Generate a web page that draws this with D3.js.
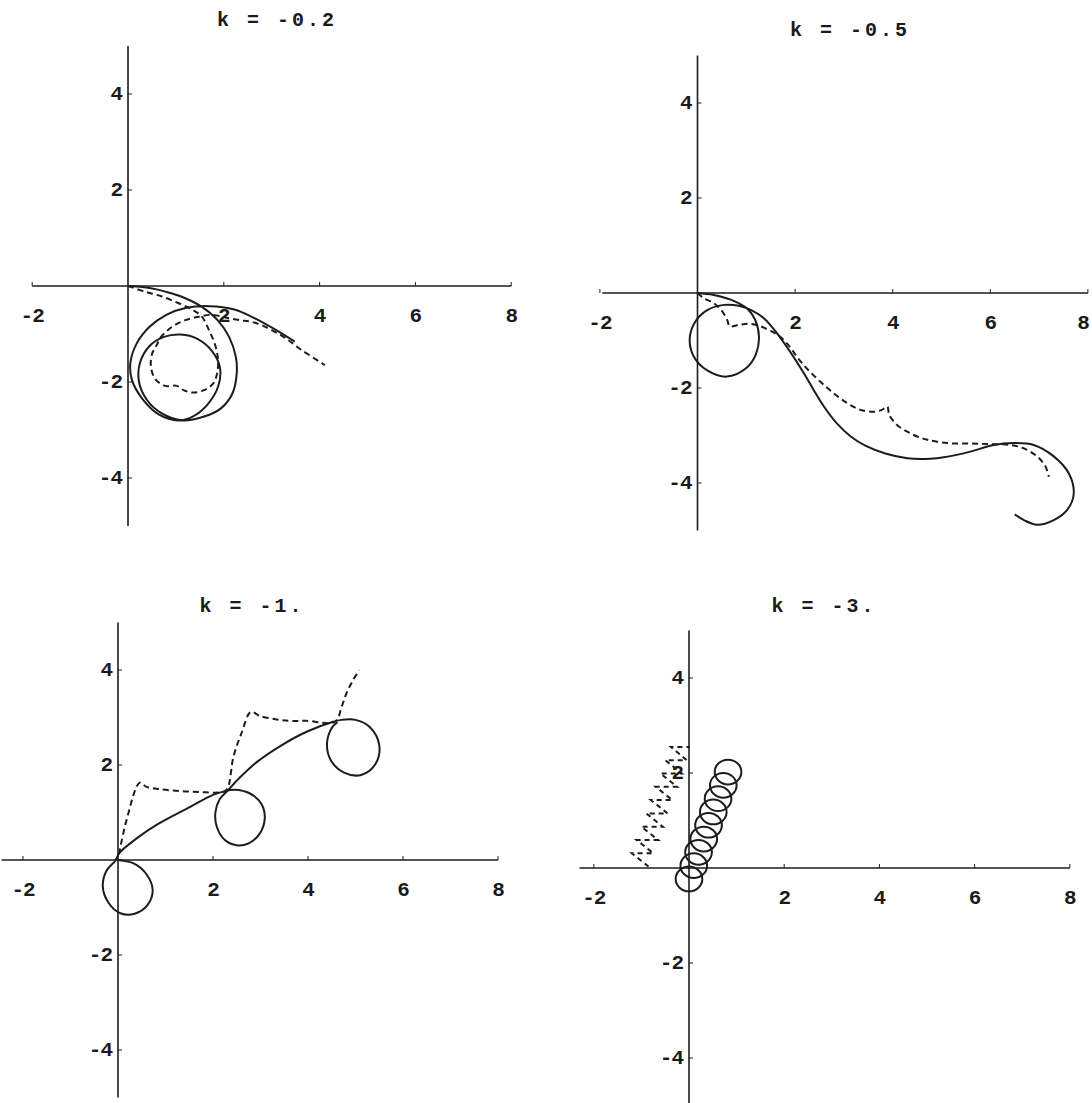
<!DOCTYPE html>
<html>
<head>
<meta charset="utf-8">
<script src="https://cdn.jsdelivr.net/npm/d3@7/dist/d3.min.js"></script>
<style>
  body { margin: 0; background: #fff; }
  text { font-family: "Liberation Mono", "DejaVu Sans Mono", monospace; fill: #1a1a1a; }
</style>
</head>
<body>
<svg id="chart" width="1092" height="1103"></svg>
<script>
// Damping parameter shown above each panel
const kLabels = ["k = -0.2", "k = -0.5", "k = -1.", "k = -3."];
const xTickValues = [-2, 2, 4, 6, 8];
const yTickValues = [4, 2, -2, -4];

// k = -0.2 : trajectory (solid) and companion curve (dashed), [x, y]
const solid1 = [
  [0,0],[0.3,-0.02],[0.6,-0.07],[0.9,-0.15],[1.16,-0.24],[1.52,-0.42],[1.87,-0.71],[2.11,-1.06],
  [2.25,-1.47],[2.27,-1.82],[2.18,-2.24],[1.94,-2.55],[1.59,-2.72],[1.13,-2.8],
  [0.7,-2.65],[0.4,-2.38],[0.23,-2.0],[0.25,-1.6],[0.45,-1.25],[0.75,-1.06],[1.1,-1.01],
  [1.45,-1.1],[1.75,-1.35],[1.92,-1.7],[1.88,-2.1],[1.65,-2.48],[1.35,-2.72],[1.05,-2.8],
  [0.65,-2.68],[0.3,-2.35],[0.08,-1.95],[0.05,-1.6],[0.18,-1.2],[0.45,-0.85],[0.8,-0.6],
  [1.2,-0.46],[1.7,-0.42],[2.22,-0.49],[2.64,-0.67],[3.06,-0.9],[3.48,-1.16]
];
const dashed1 = [
  [0,0],[0.36,-0.12],[0.71,-0.22],[1.06,-0.36],[1.34,-0.49],[1.55,-0.65],[1.69,-0.92],[1.82,-1.23],
  [1.88,-1.54],[1.86,-1.82],[1.78,-2.03],[1.59,-2.17],[1.34,-2.22],[1.16,-2.17],[1.02,-2.08],
  [0.78,-2.08],[0.57,-1.94],[0.48,-1.69],[0.5,-1.42],[0.6,-1.23],[0.69,-1.06],[0.92,-0.85],
  [1.2,-0.71],[1.48,-0.64],[1.76,-0.6],[2.01,-0.65],[2.32,-0.71],[2.67,-0.77],[3.2,-1.03],
  [3.62,-1.33],[4.11,-1.65]
];

// k = -0.5
const solid2 = [
  [0,0],[0.33,-0.04],[0.68,-0.14],[1.02,-0.33],
  [1.18,-0.56],[1.26,-0.92],[1.2,-1.28],[1.0,-1.58],[0.6,-1.76],[0.2,-1.63],[-0.08,-1.33],
  [-0.16,-0.97],[-0.05,-0.61],[0.2,-0.36],[0.55,-0.25],[0.85,-0.27],[1.1,-0.36],
  [1.36,-0.53],[1.63,-0.85],[1.9,-1.24],[2.18,-1.69],[2.38,-2.04],[2.59,-2.39],[2.86,-2.75],
  [3.14,-3.02],[3.45,-3.22],[3.85,-3.38],[4.3,-3.48],[4.77,-3.49],[5.05,-3.46],[5.59,-3.34],
  [6.07,-3.2],[6.48,-3.16],[6.89,-3.2],[7.3,-3.44],[7.61,-3.8],[7.71,-4.22],[7.58,-4.56],
  [7.3,-4.78],[6.96,-4.88],[6.69,-4.78],[6.5,-4.66]
];
const dashed2 = [
  [0,0],[0.13,-0.11],[0.33,-0.21],[0.51,-0.39],[0.61,-0.57],[0.66,-0.7],[0.85,-0.67],
  [1.05,-0.65],[1.26,-0.69],[1.46,-0.78],[1.67,-0.9],[1.88,-1.12],[2.05,-1.36],[2.25,-1.6],
  [2.52,-1.87],[2.79,-2.11],[3.07,-2.32],[3.34,-2.46],[3.61,-2.5],[3.78,-2.46],[3.89,-2.39],
  [3.93,-2.57],[4.09,-2.78],[4.3,-2.92],[4.5,-3.02],[4.71,-3.09],[5.12,-3.16],[5.59,-3.17],
  [5.94,-3.18],[6.41,-3.2],[6.69,-3.27],[6.96,-3.44],[7.13,-3.65],[7.2,-3.87]
];

// k = -1.
const solid3 = [
  [0,0],[0.35,-0.08],[0.6,-0.3],[0.73,-0.63],[0.62,-0.95],[0.35,-1.13],[0.05,-1.12],[-0.2,-0.9],
  [-0.32,-0.56],[-0.24,-0.22],[-0.06,-0.02],[0.03,0.15],
  [0.4,0.46],[0.81,0.74],[1.52,1.12],[2.0,1.37],[2.22,1.44],
  [2.45,1.48],[2.78,1.4],[3.02,1.18],[3.09,0.88],[2.98,0.55],[2.75,0.35],[2.5,0.31],[2.25,0.42],
  [2.08,0.7],[2.05,1.0],[2.14,1.28],[2.3,1.45],
  [2.55,1.72],[2.92,2.06],[3.45,2.42],[3.97,2.7],[4.53,2.91],
  [4.7,2.95],[5.0,2.95],[5.3,2.8],[5.5,2.42],[5.42,2.02],[5.12,1.79],[4.76,1.84],[4.48,2.1],
  [4.4,2.45],[4.5,2.78],[4.62,2.9]
];
const dashed3 = [
  [0.02,0.12],[0.18,0.84],[0.46,1.63],[0.6,1.54],[0.88,1.49],[1.31,1.45],[1.73,1.43],[2.11,1.42],
  [2.25,1.45],[2.32,1.54],[2.43,2.17],[2.6,2.67],[2.8,3.12],[2.99,3.03],[3.34,2.96],[3.62,2.93],
  [3.97,2.93],[4.57,2.91],[4.71,3.23],[4.81,3.51],[4.95,3.79],[5.08,4.0]
];

// k = -3. : the tight loops of the trajectory (centre x, centre y) and the dashed zigzag
const loopCx4 = [0.0, 0.1, 0.2, 0.31, 0.41, 0.51, 0.61, 0.72, 0.82];
const loopCy4 = [-0.23, 0.05, 0.33, 0.61, 0.9, 1.18, 1.46, 1.74, 2.02];
const loopRx4 = 0.28, loopRy4 = 0.26;
const dashed4 = [
  [-0.85,0.03],[-1.2,0.31],[-0.75,0.31],[-1.1,0.59],[-0.65,0.59],[-1.0,0.87],[-0.55,0.87],
  [-0.9,1.15],[-0.45,1.15],[-0.8,1.43],[-0.35,1.43],[-0.7,1.71],[-0.25,1.71],[-0.6,1.99],
  [-0.15,1.99],[-0.5,2.27],[-0.05,2.27],[-0.38,2.55],[0.02,2.55]
];

// pixel frame of each panel: origin, pixels per unit, left end of the x axis, title spot
const frames = [
  { ox: 128,   oy: 286, sx: 47.9, sy: 48,   xMin: -2,    tx: 277, ty: 20 },
  { ox: 697.5, oy: 293, sx: 48.8, sy: 47.5, xMin: -1.95, tx: 850, ty: 30 },
  { ox: 118,   oy: 860, sx: 47.5, sy: 47.5, xMin: -2.45, tx: 252, ty: 606 },
  { ox: 689,   oy: 868, sx: 47.6, sy: 47.5, xMin: -2.3,  tx: 824, ty: 606 }
];
const solids = [solid1, solid2, solid3, null];
const dashes = [dashed1, dashed2, dashed3, dashed4];

const svg = d3.select("#chart");
const ink = "#1c1c1c";

frames.forEach((f, i) => {
  const x = d3.scaleLinear().domain([-2, 8]).range([f.ox - 2 * f.sx, f.ox + 8 * f.sx]);
  const y = d3.scaleLinear().domain([-5, 5]).range([f.oy + 5 * f.sy, f.oy - 5 * f.sy]);
  const g = svg.append("g");

  // axes through the origin
  g.append("line").attr("x1", x(f.xMin)).attr("x2", x(8)).attr("y1", y(0)).attr("y2", y(0))
    .attr("stroke", ink).attr("stroke-width", 1.6);
  g.append("line").attr("x1", x(0)).attr("x2", x(0)).attr("y1", y(-5)).attr("y2", y(5))
    .attr("stroke", ink).attr("stroke-width", 1.6);

  // small tick marks
  g.selectAll(".xt").data(xTickValues).join("line")
    .attr("x1", d => x(d)).attr("x2", d => x(d)).attr("y1", y(0)).attr("y2", y(0) - 4)
    .attr("stroke", ink).attr("stroke-width", 1);
  g.selectAll(".yt").data(yTickValues).join("line")
    .attr("x1", x(0)).attr("x2", x(0) + 4).attr("y1", d => y(d)).attr("y2", d => y(d))
    .attr("stroke", ink).attr("stroke-width", 1);

  // tick labels (the last x label is kept inside the page)
  g.selectAll(".xl").data(xTickValues).join("text")
    .attr("x", d => Math.min(x(d), 1083)).attr("y", y(0) + 30)
    .attr("text-anchor", "middle").attr("dominant-baseline", "central")
    .attr("font-size", 21).attr("font-weight", "bold").attr("letter-spacing", -1)
    .text(d => d);
  g.selectAll(".yl").data(yTickValues).join("text")
    .attr("x", x(0) - 6).attr("y", d => y(d))
    .attr("text-anchor", "end").attr("dominant-baseline", "central")
    .attr("font-size", 21).attr("font-weight", "bold").attr("letter-spacing", -1)
    .text(d => d);

  // panel title
  g.append("text").attr("x", f.tx).attr("y", f.ty)
    .attr("text-anchor", "middle").attr("dominant-baseline", "central")
    .attr("font-size", 20).attr("font-weight", "bold").attr("letter-spacing", 3)
    .text(kLabels[i]);

  const line = d3.line().x(d => x(d[0])).y(d => y(d[1])).curve(d3.curveCatmullRom.alpha(0.5));

  if (solids[i]) {
    g.append("path").attr("d", line(solids[i])).attr("fill", "none")
      .attr("stroke", ink).attr("stroke-width", 2);
  } else {
    g.selectAll(".loop").data(loopCx4).join("ellipse")
      .attr("cx", d => x(d)).attr("cy", (d, j) => y(loopCy4[j]))
      .attr("rx", x(loopRx4) - x(0)).attr("ry", y(0) - y(loopRy4))
      .attr("fill", "none").attr("stroke", ink).attr("stroke-width", 2);
  }
  const dashLine = i === 3
    ? d3.line().x(d => x(d[0])).y(d => y(d[1]))
    : line;
  g.append("path").attr("d", dashLine(dashes[i])).attr("fill", "none")
    .attr("stroke", ink).attr("stroke-width", 2).attr("stroke-dasharray", i === 3 ? "5 4" : "6 4");
});
</script>
</body>
</html>
